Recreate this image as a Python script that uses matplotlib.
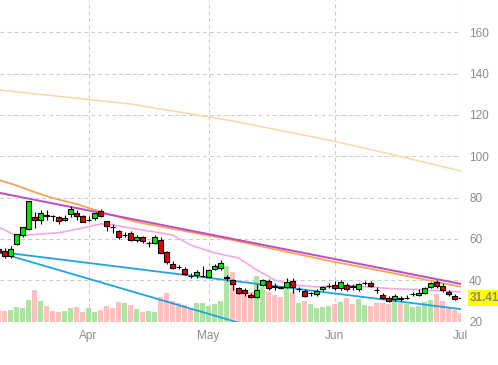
import matplotlib
matplotlib.use('Agg')
import matplotlib.pyplot as plt
import numpy as np
import pandas as pd

plt.rcParams['font.family'] = ['Liberation Sans', 'DejaVu Sans']

# ---------------- data ----------------
holidays = ['2022-04-15', '2022-05-30', '2022-06-20']
dates = pd.bdate_range('2022-03-11', '2022-07-01', freq='C', holidays=holidays)

opens = [55.0, 54.3, 52.0, 57.7, 61.7, 65.0, 70.5, 69.0, 71.4, 71.3, 70.7, 69.0, 72.1, 72.8,
         71.0, 69.2, 70.2, 73.4, 68.5, 65.7, 64.0, 62.0, 62.9, 59.7, 60.8, 58.0, 58.1,
         59.7, 53.7, 47.9, 46.5, 45.6, 42.3, 42.7, 42.2, 41.8, 45.4, 45.9, 41.3, 40.2,
         36.2, 35.4, 33.0, 31.8, 37.8, 39.8, 37.1, 36.6, 37.0, 39.9, 35.6, 35.0, 33.7,
         33.3, 35.7, 37.2, 37.8, 36.2, 37.8, 37.1, 35.7, 38.8, 38.6, 35.5, 33.0, 31.7,
         30.9, 31.3, 31.3, 33.2, 32.8, 34.1, 36.7, 39.4, 37.3, 34.6, 32.5, 31.5]
highs = [57.0, 55.8, 56.4, 62.6, 66.0, 78.5, 73.1, 73.9, 74.2, 71.5, 70.9, 71.5, 76.2, 74.2,
         71.5, 71.0, 72.8, 74.6, 68.8, 67.3, 64.3, 63.4, 64.0, 62.1, 61.3, 58.8, 61.8,
         60.8, 54.3, 49.5, 47.5, 46.4, 43.5, 45.1, 46.7, 45.3, 48.0, 49.9, 42.7, 40.7,
         36.9, 36.2, 33.8, 38.3, 40.7, 40.5, 38.6, 37.3, 41.1, 41.1, 36.7, 35.7, 34.6,
         35.7, 37.5, 38.9, 39.6, 40.2, 38.6, 38.3, 38.9, 39.9, 39.9, 36.7, 34.1, 32.2,
         33.3, 32.2, 32.9, 34.6, 35.7, 36.9, 39.4, 40.2, 38.6, 35.4, 33.3, 32.5]
lows = [53.2, 50.9, 50.8, 56.9, 61.0, 64.2, 65.3, 67.4, 69.4, 68.5, 67.3, 68.5, 70.8, 69.4,
        68.0, 68.5, 69.4, 70.5, 64.0, 62.9, 60.1, 60.8, 59.2, 58.5, 58.3, 56.1, 57.6,
        52.7, 48.0, 45.6, 45.6, 42.6, 41.1, 41.1, 41.8, 41.5, 44.9, 45.1, 39.8, 35.4,
        33.4, 32.6, 31.3, 31.3, 37.3, 35.4, 35.4, 35.8, 36.2, 34.1, 34.6, 31.8, 32.6,
        32.6, 35.0, 36.2, 35.4, 35.4, 35.0, 35.4, 35.0, 37.8, 36.7, 33.8, 30.9, 29.6,
        30.2, 30.2, 30.9, 32.6, 32.6, 33.4, 36.2, 36.2, 34.6, 32.6, 30.5, 30.9]
closes = [53.8, 51.6, 55.1, 62.4, 65.8, 78.3, 69.0, 72.6, 71.3, 71.2, 68.7, 70.3, 74.7, 71.0,
          68.3, 69.3, 72.6, 71.3, 66.1, 65.6, 60.8, 62.1, 59.7, 60.8, 58.8, 58.1, 60.8,
          53.2, 48.8, 46.2, 46.4, 43.0, 42.2, 44.0, 42.3, 45.1, 46.7, 48.3, 41.4, 38.2,
          34.1, 33.8, 31.8, 35.4, 40.2, 36.2, 37.0, 36.5, 39.1, 37.0, 35.7, 32.5, 33.8,
          34.9, 36.7, 37.3, 36.2, 39.4, 35.7, 37.0, 38.3, 38.9, 37.3, 35.4, 31.4, 30.2,
          32.5, 31.2, 31.4, 33.3, 34.1, 36.2, 38.6, 37.5, 35.4, 33.3, 31.2, 31.41]
volumes = [12, 11, 12, 15, 14, 22, 32, 21, 16, 11, 10, 11, 14, 15,
           10, 14, 10, 12, 16, 14, 20, 19, 17, 13, 10, 11, 10,
           25, 29, 21, 19, 17, 14, 19, 19, 16, 18, 21, 56, 50,
           31, 30, 30, 46, 35, 30, 27, 25, 39, 30, 19, 21, 18,
           14, 15, 16, 18, 20, 24, 18, 23, 17, 16, 19, 19, 18,
           21, 19, 18, 15, 16, 20, 22, 28, 21, 14, 12, 9]

# moving averages (date, value)
ma_long_dates = ['2022-03-11', '2022-04-12', '2022-05-05', '2022-05-31', '2022-06-15', '2022-07-01']
ma_long_vals = [132.1, 125.3, 117.6, 107.9, 100.6, 92.9]
ma_mid_dates = ['2022-03-11', '2022-03-16', '2022-03-21', '2022-03-24', '2022-03-30', '2022-04-05',
                '2022-04-13', '2022-04-25', '2022-05-06', '2022-05-13', '2022-05-31', '2022-06-14',
                '2022-07-01']
ma_mid_vals = [88.6, 85.9, 82.7, 79.8, 76.9, 73.2, 68.2, 64.4, 59.5, 56.3, 49.5, 43.9, 36.9]
ma_short_dates = ['2022-03-11', '2022-03-16', '2022-03-22', '2022-03-25', '2022-03-31', '2022-04-05',
                  '2022-04-07', '2022-04-12', '2022-04-19', '2022-04-22', '2022-04-27', '2022-05-03',
                  '2022-05-09', '2022-05-12', '2022-05-17', '2022-05-20', '2022-05-26', '2022-06-06',
                  '2022-06-15', '2022-06-23', '2022-07-01']
ma_short_vals = [65.8, 61.5, 62.4, 63.0, 65.3, 67.3, 66.8, 65.3, 63.4, 61.9, 57.1, 53.3,
                 50.8, 45.1, 40.2, 37.8, 36.8, 37.3, 35.9, 35.4, 34.4]

# trendlines (date, price) endpoints
trend_top = (['2022-03-11', '2022-07-01'], [82.4, 38.3])
trend_blue1 = (['2022-03-11', '2022-07-01'], [53.8, 26.1])
trend_blue2 = (['2022-03-11', '2022-05-10'], [53.5, 18.7])

last_price = 31.41
price_ticks = [20, 40, 60, 80, 100, 120, 140, 160]

# ---------------- figure ----------------
fig = plt.figure(figsize=(4.98, 3.65), dpi=100)
ax = fig.add_axes([0, 1 - 322 / 365, 461 / 498, 322 / 365])
axv = ax.twinx()
ax.set_zorder(axv.get_zorder() + 1)
ax.patch.set_visible(False)

x = np.arange(len(dates))
def pos(ds):
    return [dates.get_loc(pd.Timestamp(d)) for d in ds]

o = np.array(opens); c = np.array(closes); h = np.array(highs); l = np.array(lows)
up = c >= o

# volume
vcol = np.where(up, '#aee3a4', '#ffc0c0')
axv.bar(x, volumes, width=0.84, color=vcol, linewidth=0)
axv.set_ylim(0, 322)
axv.set_yticks([])

# grid
grid_kw = dict(color='#cccccc', lw=0.75, linestyle=(0, (3.8, 2.9)))
month_pos = [i for i in range(1, len(dates)) if dates[i].month != dates[i - 1].month]
for p in price_ticks:
    ax.axhline(p, zorder=0, **grid_kw)
for mp in month_pos:
    ax.axvline(mp, zorder=0, **grid_kw)

# lines
ax.plot(pos(ma_long_dates), ma_long_vals, color='#f7d9a8', lw=1.1, zorder=2)
ax.plot(pos(ma_short_dates), ma_short_vals, color='#f2a9e6', lw=1.2, zorder=2)
ax.plot(pos(trend_blue1[0]), trend_blue1[1], color='#23a3e0', lw=1.3, zorder=2)
ax.plot(pos(trend_blue2[0]), trend_blue2[1], color='#23a3e0', lw=1.3, zorder=2)
ax.plot(pos(ma_mid_dates), ma_mid_vals, color='#f5a25a', lw=1.3, zorder=2)
ax.plot(pos(trend_top[0]), trend_top[1], color='#c04cc4', lw=1.4, zorder=2)

# candles
ax.vlines(x, l, h, color='black', lw=0.8, zorder=3)
bcol = np.where(up, '#00e600', '#e00000')
ax.bar(x, c - o, bottom=o, width=0.68, color=bcol, edgecolor='black', linewidth=0.8, zorder=4)

ax.set_xlim(0.25, 77.08)
ax.set_ylim(19.85, 175.6)
for a in (ax, axv):
    for s in a.spines.values():
        s.set_visible(False)

ax.yaxis.tick_right()
ax.set_yticks(price_ticks)
ax.set_yticklabels([str(p) for p in price_ticks])
ax.set_xticks(month_pos)
ax.set_xticklabels([dates[i].strftime('%b') for i in month_pos])
ax.tick_params(axis='both', length=0, labelsize=8.5, labelcolor='#8c8c8c')
ax.tick_params(axis='y', pad=5.8)
ax.tick_params(axis='x', pad=5.5)

ax.annotate(f'{last_price:.2f}', xy=(1, last_price), xycoords=('axes fraction', 'data'),
            xytext=(6, 0), textcoords='offset points', ha='left', va='center',
            fontsize=8.5, fontweight='bold', color='#8c8c5c',
            bbox=dict(boxstyle='square,pad=0.15', fc='#ffff00', ec='none'),
            annotation_clip=False, zorder=10)

fig.savefig('out.png', dpi=100)
